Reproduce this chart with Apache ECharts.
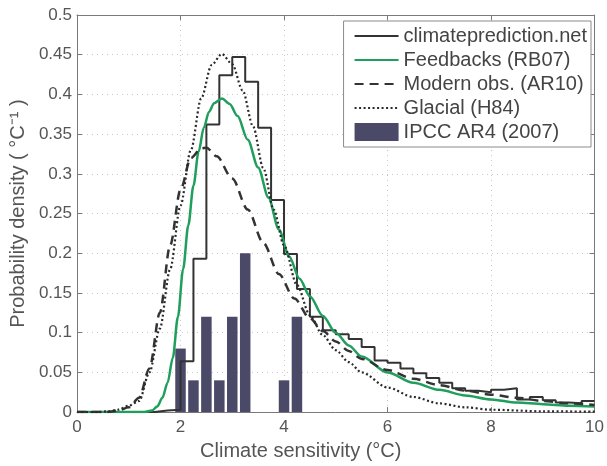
<!DOCTYPE html>
<html>
<head>
<meta charset="utf-8">
<script src="https://cdn.jsdelivr.net/npm/echarts@6/dist/echarts.min.js"></script>
<style>
html,body{margin:0;padding:0;background:#fff;}
#chart{width:607px;height:466px;}
</style>
</head>
<body>
<div id="chart"></div>
<script>
// climateprediction.net histogram (left bin edges, step values)
const cpdnX = [0, 1.5, 1.75, 2.0, 2.25, 2.5, 2.75, 3.0, 3.25, 3.5, 3.75, 4.0, 4.25, 4.5, 4.75, 5.0, 5.25, 5.5, 5.75, 6.0, 6.25, 6.5, 6.75, 7.0, 7.25, 7.5, 7.75, 8.0, 8.25, 8.5, 8.75, 9.0, 9.25, 9.5, 9.75, 10];
const cpdnY = [0, 0.002, 0.003, 0.064, 0.193, 0.362, 0.424, 0.447, 0.416, 0.358, 0.267, 0.199, 0.155, 0.12, 0.103, 0.098, 0.092, 0.082, 0.065, 0.062, 0.055, 0.049, 0.043, 0.037, 0.03, 0.027, 0.025, 0.028, 0.030, 0.016, 0.019, 0.015, 0.012, 0.011, 0.014, 0.014];

// Feedbacks (RB07)
const rbX = [0, 1.3, 1.45, 1.55, 1.65, 1.75, 1.85, 1.95, 2.05, 2.15, 2.25, 2.35, 2.45, 2.55, 2.65, 2.8, 2.95, 3.1, 3.3, 3.5, 3.7, 3.9, 4.1, 4.3, 4.5, 4.75, 5.0, 5.25, 5.5, 6.0, 6.5, 7.0, 7.5, 8.0, 8.5, 9.0, 9.5, 10];
const rbY = [0, 0, 0.002, 0.007, 0.018, 0.037, 0.068, 0.12, 0.18, 0.235, 0.285, 0.328, 0.358, 0.378, 0.389, 0.395, 0.388, 0.373, 0.343, 0.308, 0.27, 0.23, 0.196, 0.168, 0.146, 0.121, 0.1, 0.084, 0.07, 0.05, 0.037, 0.028, 0.021, 0.016, 0.012, 0.01, 0.008, 0.007];

// Modern obs. (AR10)
const arX = [0, 0.6, 0.8, 1.0, 1.2, 1.4, 1.6, 1.8, 2.0, 2.2, 2.4, 2.5, 2.7, 3.0, 3.3, 3.6, 3.9, 4.2, 4.5, 4.75, 5.0, 5.25, 5.5, 6.0, 6.5, 7.0, 7.5, 8.0, 8.5, 9.0, 9.5, 10];
const arY = [0, 0, 0.002, 0.006, 0.018, 0.055, 0.125, 0.21, 0.28, 0.32, 0.332, 0.333, 0.322, 0.294, 0.255, 0.213, 0.174, 0.143, 0.118, 0.102, 0.089, 0.077, 0.067, 0.053, 0.042, 0.034, 0.027, 0.022, 0.018, 0.014, 0.011, 0.009];

// Glacial (H84)
const hX = [0, 0.4, 0.6, 0.8, 1.0, 1.2, 1.4, 1.6, 1.8, 2.0, 2.2, 2.4, 2.6, 2.8, 3.0, 3.2, 3.4, 3.6, 3.8, 4.0, 4.25, 4.5, 4.75, 5.0, 5.25, 5.5, 6.0, 6.5, 7.0, 7.5, 8.0, 9.0, 10];
const hY = [0, 0, 0.001, 0.003, 0.008, 0.014, 0.05, 0.105, 0.18, 0.26, 0.33, 0.395, 0.437, 0.451, 0.438, 0.405, 0.36, 0.307, 0.255, 0.21, 0.16, 0.122, 0.097, 0.078, 0.063, 0.05, 0.031, 0.019, 0.011, 0.006, 0.003, 0.001, 0.0005];

// IPCC AR4 (2007)
const ipccX = [2.0, 2.25, 2.5, 2.75, 3.0, 3.25, 4.0, 4.25];
const ipccY = [0.08, 0.04, 0.12, 0.04, 0.12, 0.2, 0.04, 0.12];

const seriesNames = ['climateprediction.net', 'Feedbacks (RB07)', 'Modern obs. (AR10)', 'Glacial (H84)', 'IPCC AR4 (2007)'];
const xTicks = [0, 2, 4, 6, 8, 10];

const zip = (xs, ys) => xs.map((x, i) => [x, ys[i]]);
const FONT = 'Liberation Sans';
const TXT = '#555';
const AX = '#7a7a7a';
const hideSym = {opacity: 0};

const chart = echarts.init(document.getElementById('chart'), null, {renderer: 'canvas'});
const option = {
  backgroundColor: '#fff',
  animation: false,
  grid: {left: 77, top: 15, right: 10, bottom: 51},
  legend: {
    orient: 'vertical',
    right: 16, top: 21,
    backgroundColor: '#fff',
    borderColor: '#8a8a8a', borderWidth: 1,
    padding: [5, 4, 5, 10],
    itemWidth: 44, itemHeight: 18, itemGap: 4,
    textStyle: {fontFamily: FONT, fontSize: 20, color: '#444', lineHeight: 20},
    data: [
      {name: seriesNames[0], itemStyle: hideSym},
      {name: seriesNames[1], itemStyle: hideSym},
      {name: seriesNames[2], itemStyle: hideSym},
      {name: seriesNames[3], itemStyle: hideSym},
      {name: seriesNames[4], icon: 'rect'}
    ]
  },
  xAxis: [{
    type: 'value', min: 0, max: 10, interval: 2,
    name: 'Climate sensitivity (°C)', nameLocation: 'middle', nameGap: 27,
    nameTextStyle: {fontFamily: FONT, fontSize: 20, color: TXT, lineHeight: 20, padding: [0, 70, 0, 0]},
    axisLine: {show: true, lineStyle: {color: AX, width: 1}},
    axisTick: {show: true, inside: true, length: 5, lineStyle: {color: AX}},
    axisLabel: {fontFamily: FONT, fontSize: 17, color: TXT, margin: 7,
      formatter: v => xTicks.includes(v) ? String(v) : ''},
    splitLine: {show: true, lineStyle: {color: '#c8c8c8', type: [1, 4], width: 1}}
  }, {
    type: 'value', min: 0, max: 10, interval: 2, position: 'top',
    axisLine: {show: true, onZero: false, lineStyle: {color: AX, width: 1}},
    axisTick: {show: true, inside: true, length: 5, lineStyle: {color: AX}},
    axisLabel: {show: false}, splitLine: {show: false}
  }],
  yAxis: [{
    type: 'value', min: 0, max: 0.5, interval: 0.05,
    name: 'Probability density ( °C⁻¹ )', nameLocation: 'middle', nameGap: 42,
    nameTextStyle: {fontFamily: FONT, fontSize: 20, color: TXT, lineHeight: 20},
    axisLine: {show: true, lineStyle: {color: AX, width: 1}},
    axisTick: {show: true, inside: true, length: 5, lineStyle: {color: AX}},
    axisLabel: {fontFamily: FONT, fontSize: 17, color: TXT, margin: 5,
      formatter: v => String(Math.round(v * 100) / 100)},
    splitLine: {show: true, lineStyle: {color: '#c8c8c8', type: [1, 4], width: 1}}
  }, {
    type: 'value', min: 0, max: 0.5, interval: 0.05, position: 'right',
    axisLine: {show: true, onZero: false, lineStyle: {color: AX, width: 1}},
    axisTick: {show: true, inside: true, length: 5, lineStyle: {color: AX}},
    axisLabel: {show: false}, splitLine: {show: false}
  }],
  series: [
    {
      name: seriesNames[0], type: 'line', step: 'end', symbol: 'none',
      data: zip(cpdnX, cpdnY),
      lineStyle: {color: '#333', width: 2}, itemStyle: {color: '#333'}
    },
    {
      name: seriesNames[1], type: 'line', smooth: 0.3, smoothMonotone: 'x', symbol: 'none',
      data: zip(rbX, rbY),
      lineStyle: {color: '#1f9e5c', width: 2.5}, itemStyle: {color: '#1f9e5c'}
    },
    {
      name: seriesNames[2], type: 'line', smooth: 0.3, smoothMonotone: 'x', symbol: 'none',
      data: zip(arX, arY),
      lineStyle: {color: '#333', width: 2.5, type: [9, 6]}, itemStyle: {color: '#333'}
    },
    {
      name: seriesNames[3], type: 'line', smooth: 0.3, smoothMonotone: 'x', symbol: 'none',
      data: zip(hX, hY),
      lineStyle: {color: '#2a2a2a', width: 2.2, type: [2, 2.5]}, itemStyle: {color: '#333'}
    },
    {
      name: seriesNames[4], type: 'bar', barWidth: 10.5,
      data: zip(ipccX, ipccY),
      itemStyle: {color: '#4b4968'}
    }
  ]
};
chart.setOption(option);
</script>
</body>
</html>
